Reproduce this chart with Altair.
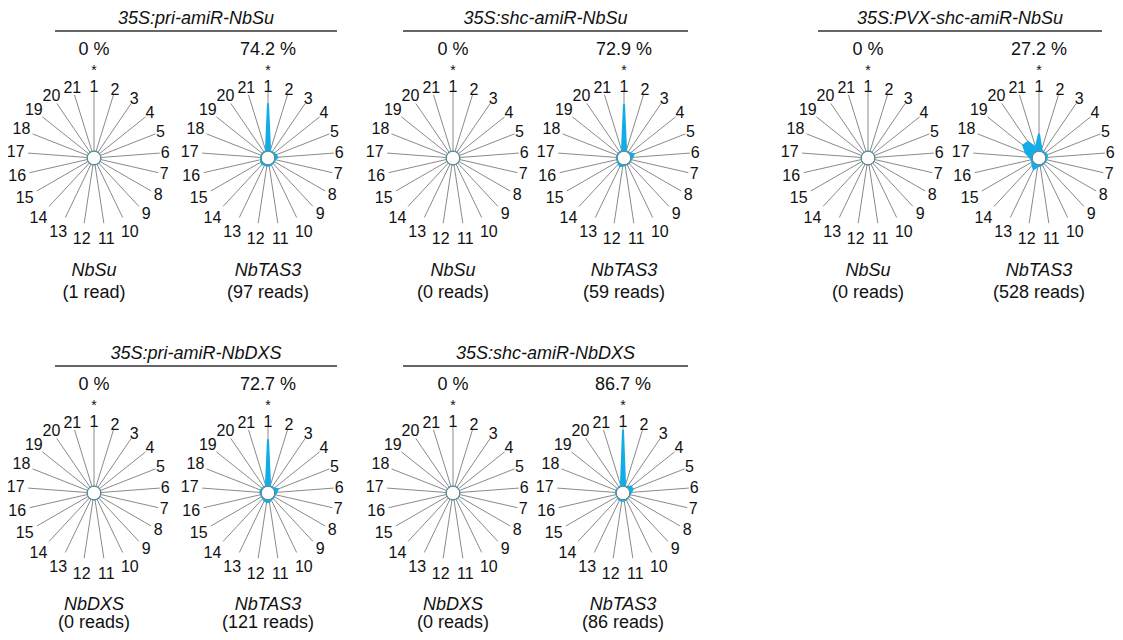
import altair as alt
import pandas as pd

# ---------------- data ----------------
REGISTERS = list(range(1, 22))

SAMPLES = ["35S:pri-amiR-NbSu", "35S:shc-amiR-NbSu", "35S:PVX-shc-amiR-NbSu",
           "35S:pri-amiR-NbDXS", "35S:shc-amiR-NbDXS"]
PANEL_SAMPLE = [0, 0, 1, 1, 2, 2, 3, 3, 4, 4]
PANEL_GENE = ["NbSu", "NbTAS3", "NbSu", "NbTAS3", "NbSu", "NbTAS3",
              "NbDXS", "NbTAS3", "NbDXS", "NbTAS3"]
PANEL_READS = ["(1 read)", "(97 reads)", "(0 reads)", "(59 reads)", "(0 reads)",
               "(528 reads)", "(0 reads)", "(121 reads)", "(0 reads)", "(86 reads)"]
PANEL_PCT = ["0 %", "74.2 %", "0 %", "72.9 %", "0 %", "27.2 %",
             "0 %", "72.7 %", "0 %", "86.7 %"]

# percentage of reads in each of the 21 registers (register 1 first)
PRI_SU_NBSU = [0] * 21
PRI_SU_TAS3 = [74.2, 1, 1, 1.5, 3, 4.5, 1, 1, 1, 1, 2, 2, 1.5, 3, 2, 1, 1, 1, 1, 1, 1]
SHC_SU_NBSU = [0] * 21
SHC_SU_TAS3 = [72.9, 1, 1, 2, 6, 3, 1, 1, 1, 1, 1, 2, 4, 2, 1, 1, 1, 1, 1, 1, 1]
PVX_SU_NBSU = [0] * 21
PVX_SU_TAS3 = [27.2, 3, 1.5, 2, 3, 2, 1.5, 1, 1, 1, 2, 3, 9, 5, 2, 2, 4, 12, 21, 20, 7]
PRI_DXS_NBDXS = [0] * 21
PRI_DXS_TAS3 = [72.7, 1, 1, 1.5, 6, 3, 1, 1, 1, 1, 4, 4, 3, 1, 1, 1, 2, 2, 1, 1, 1]
SHC_DXS_NBDXS = [0] * 21
SHC_DXS_TAS3 = [86.7, 1, 1, 6, 6, 2, 1, 0.5, 0.5, 1, 2, 2, 2, 1, 0.5, 0.5, 1, 1, 0.5, 0.5, 1]

PHASE_VALUES = [PRI_SU_NBSU, PRI_SU_TAS3, SHC_SU_NBSU, SHC_SU_TAS3, PVX_SU_NBSU,
                PVX_SU_TAS3, PRI_DXS_NBDXS, PRI_DXS_TAS3, SHC_DXS_NBDXS, SHC_DXS_TAS3]

# ---------------- layout (page pixels) ----------------
PANEL_X = [94, 268, 453, 624, 868, 1039, 94, 268, 453, 623]
PANEL_ROW = [0, 0, 0, 0, 0, 0, 1, 1, 1, 1]
ROW_Y = [158, 493]
TITLE_LINE_X = [(55, 337), (403, 688), (818, 1102), (55, 337), (403, 688)]
TITLE_ROW = [0, 0, 0, 1, 1]

CYAN = "#12ADE6"
GREY = "#8a8a8a"
FONT = "Liberation Sans"
SPOKE_R = 66
R0 = 6.5
K = 0.65

W, H = 1107, 624
XS = alt.Scale(domain=[8, 8 + W], range=[0, W])
YS = alt.Scale(domain=[8, 8 + H], range=[0, H])


def X(f="x"):
    return alt.X(f"{f}:Q", scale=XS, axis=None)


def Y(f="y"):
    return alt.Y(f"{f}:Q", scale=YS, axis=None)


# long tables
rows = []
for p in range(10):
    for i, reg in enumerate(REGISTERS):
        rows.append(dict(panel=p, reg=reg, value=PHASE_VALUES[p][i],
                         cx=PANEL_X[p], cy=ROW_Y[PANEL_ROW[p]]))
reg_df = pd.DataFrame(rows)

panel_df = pd.DataFrame(dict(panel=list(range(10)), cx=PANEL_X,
                             cy=[ROW_Y[r] for r in PANEL_ROW],
                             gene=PANEL_GENE, reads=PANEL_READS, pct=PANEL_PCT))

title_df = pd.DataFrame(dict(title=SAMPLES,
                             x1=[a for a, b in TITLE_LINE_X],
                             x2=[b for a, b in TITLE_LINE_X],
                             cy=[ROW_Y[r] for r in TITLE_ROW]))
title_df["xm"] = (title_df.x1 + title_df.x2) / 2

THETA = "(datum.reg - 1) * 2 * PI / 21"

spokes = alt.Chart(reg_df).transform_calculate(
    theta=THETA
).transform_calculate(
    ex=f"datum.cx + {SPOKE_R} * sin(datum.theta)",
    ey=f"datum.cy - {SPOKE_R} * cos(datum.theta)",
).mark_rule(color=GREY, strokeWidth=1).encode(
    x=X("cx"), y=Y("cy"), x2="ex:Q", y2="ey:Q"
)

area = alt.Chart(reg_df).transform_calculate(
    theta=THETA, r=f"{R0} + {K} * datum.value"
).transform_calculate(
    px="datum.cx + datum.r * sin(datum.theta)",
    py="datum.cy - datum.r * cos(datum.theta)",
).mark_line(interpolate="linear-closed", fill=CYAN, stroke=CYAN,
            strokeWidth=2, strokeJoin="miter").encode(
    x=X("px"), y=Y("py"), detail="panel:N", order="reg:Q"
)

center = alt.Chart(panel_df).mark_point(
    shape="circle", size=180, filled=True, fill="white", stroke="#7a7a7a",
    strokeWidth=1, opacity=1
).encode(x=X("cx"), y=Y("cy"))

labels = alt.Chart(reg_df).transform_calculate(
    theta=THETA
).transform_calculate(
    down="max(0, -cos(datum.theta))",
    two="datum.reg >= 10 ? 1 : 0",
).transform_calculate(
    lr="71.5 + 10 * datum.down * datum.down + 7 * abs(sin(datum.theta)) * datum.two"
).transform_calculate(
    lx="datum.cx + datum.lr * sin(datum.theta)",
    ly="datum.cy - datum.lr * cos(datum.theta)",
).mark_text(font=FONT, fontSize=16, color="#111", align="center",
            baseline="middle").encode(
    x=X("lx"), y=Y("ly"), text="reg:N"
)

star = alt.Chart(panel_df).transform_calculate(
    sy="datum.cy - 87"
).mark_text(font=FONT, fontSize=14, color="#111", align="center",
            baseline="middle").encode(
    x=X("cx"), y=Y("sy"), text=alt.value("*")
)

pct = alt.Chart(panel_df).transform_calculate(
    ty="datum.cy - 108"
).mark_text(font=FONT, fontSize=18, color="#111", align="center",
            baseline="middle").encode(
    x=X("cx"), y=Y("ty"), text="pct:N"
)

gene = alt.Chart(panel_df).transform_calculate(
    ty="min(datum.cy + 113, 605)"
).mark_text(font=FONT, fontSize=18, fontStyle="italic", color="#111",
            align="center", baseline="middle").encode(
    x=X("cx"), y=Y("ty"), text="gene:N"
)

reads = alt.Chart(panel_df).transform_calculate(
    ty="min(datum.cy + 135, 623)"
).mark_text(font=FONT, fontSize=18, color="#111", align="center",
            baseline="middle").encode(
    x=X("cx"), y=Y("ty"), text="reads:N"
)

titles = alt.Chart(title_df).transform_calculate(
    ty="datum.cy - 139"
).mark_text(font=FONT, fontSize=18, fontStyle="italic", color="#111",
            align="center", baseline="middle").encode(
    x=X("xm"), y=Y("ty"), text="title:N"
)

tlines = alt.Chart(title_df).transform_calculate(
    ly="datum.cy - 127"
).mark_rule(color="#333", strokeWidth=1.5).encode(
    x=X("x1"), x2="x2:Q", y=Y("ly")
)

chart = alt.layer(
    spokes, area, center, labels, star, pct, gene, reads, titles, tlines
).properties(
    width=W, height=H, padding=0, autosize=alt.AutoSizeParams(type="none")
).configure_view(stroke=None)

chart.save("out.html", embed_options={"renderer": "svg", "actions": False})
